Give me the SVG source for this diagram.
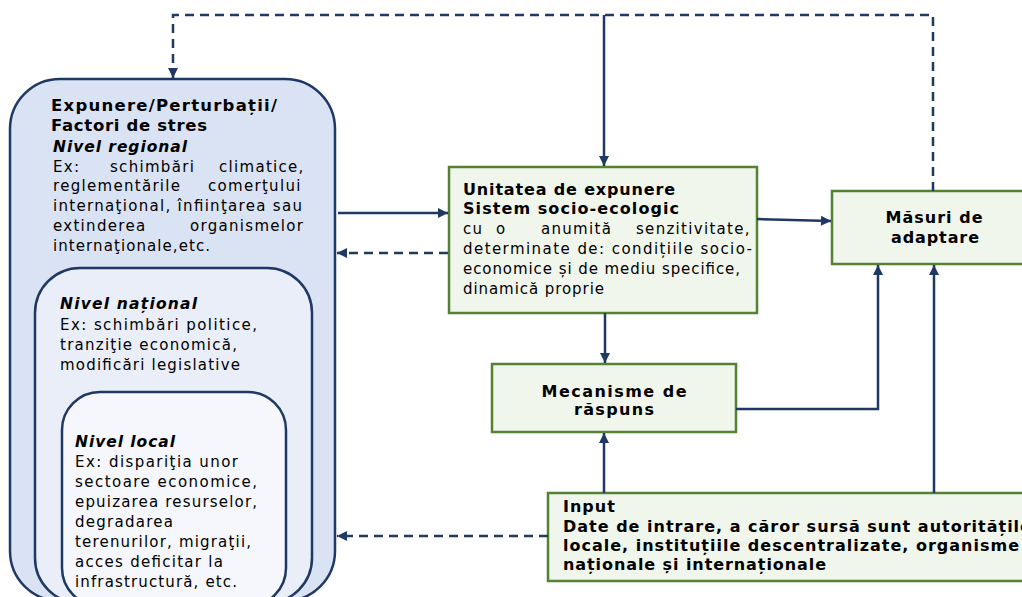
<svg xmlns="http://www.w3.org/2000/svg" width="1022" height="597" viewBox="0 0 1022 597">
  <style>
    .t { font-family: "DejaVu Sans", Verdana, sans-serif; fill: #000; }
    .b { font-size: 15px; }
    .j { font-size: 15px; letter-spacing: 1.3px; }
    .h { font-size: 16px; font-weight: bold; }
    .ttl { font-size: 16.5px; font-weight: bold; }
    .bi { font-size: 15.5px; font-weight: bold; font-style: italic; }
    .lvl { stroke: #1f3864; stroke-width: 2.5; }
    .box { fill: #f1f6ec; stroke: #548235; stroke-width: 2.5; }
    .c { fill: none; stroke: #1f3864; stroke-width: 2.5; }
    .d { stroke-dasharray: 9 6; }
  </style>
  <defs>
    <marker id="ah" viewBox="0 0 10 10" refX="10" refY="5" markerWidth="4.4" markerHeight="4" orient="auto" markerUnits="strokeWidth">
      <path d="M0,0 L10,5 L0,10 z" fill="#1f3864"/>
    </marker>
  </defs>

  <rect width="1022" height="597" fill="#ffffff"/>

  <!-- stress factors: regional / national / local levels -->
  <g id="factori">
    <rect class="lvl" x="10" y="79" width="325" height="522" rx="50" fill="#dae3f3"/>
    <text class="t ttl" x="51" y="111" textLength="226" lengthAdjust="spacing">Expunere/Perturbații/</text>
    <text class="t ttl" x="51" y="131" textLength="156" lengthAdjust="spacing">Factori de stres</text>
    <text class="t bi" x="53" y="152" textLength="134" lengthAdjust="spacing">Nivel regional</text>
    <!-- justified paragraph: words placed individually -->
    <text class="t j" y="172"><tspan x="53">Ex:</tspan> <tspan x="110">schimbări</tspan> <tspan x="219">climatice,</tspan></text>
    <text class="t j" y="191"><tspan x="53">reglementările</tspan> <tspan x="208">comerţului</tspan></text>
    <text class="t b" x="53" y="211" textLength="249" lengthAdjust="spacing">internaţional, înfiinţarea sau</text>
    <text class="t j" y="231"><tspan x="53">extinderea</tspan> <tspan x="190">organismelor</tspan></text>
    <text class="t b" x="53" y="251" textLength="157" lengthAdjust="spacing">internaţionale,etc.</text>
  </g>
  <g id="nivel-national">
    <rect class="lvl" x="35" y="268" width="277" height="335" rx="45" fill="#e9eef8"/>
    <text class="t bi" x="60" y="309" textLength="137" lengthAdjust="spacing">Nivel național</text>
    <text class="t b" x="60" y="330" textLength="197" lengthAdjust="spacing">Ex: schimbări politice,</text>
    <text class="t b" x="60" y="350" textLength="177" lengthAdjust="spacing">tranziţie economică,</text>
    <text class="t b" x="60" y="370" textLength="180" lengthAdjust="spacing">modificări legislative</text>
  </g>
  <g id="nivel-local">
    <rect class="lvl" x="62" y="392" width="224" height="214" rx="38" fill="#f5f7fc"/>
    <text class="t bi" x="75" y="447" textLength="100" lengthAdjust="spacing">Nivel local</text>
    <text class="t b" x="75" y="467" textLength="163" lengthAdjust="spacing">Ex: dispariţia unor</text>
    <text class="t b" x="75" y="487" textLength="182" lengthAdjust="spacing">sectoare economice,</text>
    <text class="t b" x="75" y="507" textLength="182" lengthAdjust="spacing">epuizarea resurselor,</text>
    <text class="t b" x="75" y="527" textLength="98" lengthAdjust="spacing">degradarea</text>
    <text class="t b" x="75" y="547" textLength="176" lengthAdjust="spacing">terenurilor, migraţii,</text>
    <text class="t b" x="75" y="567" textLength="148" lengthAdjust="spacing">acces deficitar la</text>
    <text class="t b" x="75" y="587" textLength="162" lengthAdjust="spacing">infrastructură, etc.</text>
  </g>

  <!-- exposure unit -->
  <g id="unitatea">
    <rect class="box" x="449" y="167" width="308" height="146"/>
    <text class="t h" x="463" y="195" textLength="212" lengthAdjust="spacing">Unitatea de expunere</text>
    <text class="t h" x="463" y="214" textLength="216" lengthAdjust="spacing">Sistem socio-ecologic</text>
    <text class="t j" y="234"><tspan x="463">cu</tspan> <tspan x="496">o</tspan> <tspan x="541">anumită</tspan> <tspan x="636">senzitivitate,</tspan></text>
    <text class="t b" x="463" y="254" textLength="289" lengthAdjust="spacing">determinate de: condițiile socio-</text>
    <text class="t b" x="463" y="274" textLength="277" lengthAdjust="spacing">economice și de mediu specifice,</text>
    <text class="t b" x="463" y="294" textLength="141" lengthAdjust="spacing">dinamică proprie</text>
  </g>

  <g id="mecanisme">
    <rect class="box" x="492" y="364" width="244" height="68"/>
    <text class="t h" x="614" y="397" text-anchor="middle" textLength="145" lengthAdjust="spacing">Mecanisme de</text>
    <text class="t h" x="614" y="415" text-anchor="middle" textLength="80" lengthAdjust="spacing">răspuns</text>
  </g>

  <g id="masuri">
    <rect class="box" x="832" y="191" width="204" height="73"/>
    <text class="t h" x="934" y="223" text-anchor="middle" textLength="97" lengthAdjust="spacing">Măsuri de</text>
    <text class="t h" x="935" y="243" text-anchor="middle" textLength="88" lengthAdjust="spacing">adaptare</text>
  </g>

  <g id="input">
    <rect class="box" x="548" y="493" width="500" height="88"/>
    <text class="t h" x="563" y="512" letter-spacing="1">Input</text>
    <text class="t h" x="563" y="532" letter-spacing="1">Date de intrare, a căror sursă sunt autoritățile</text>
    <text class="t h" x="563" y="551" letter-spacing="1">locale,  instituțiile descentralizate, organisme</text>
    <text class="t h" x="563" y="570" textLength="263" lengthAdjust="spacing">naționale și internaționale</text>
  </g>

  <g id="connectors">
    <!-- feedback loop over the top -->
    <path class="c d" d="M933,191 V15 H173 V78" marker-end="url(#ah)"/>
    <path class="c" d="M604,15 V166" marker-end="url(#ah)"/>
    <!-- factors <-> exposure unit -->
    <path class="c" d="M338,213 H448" marker-end="url(#ah)"/>
    <path class="c d" d="M448,253 H337" marker-end="url(#ah)"/>
    <!-- exposure unit -> adaptation / response -->
    <path class="c" d="M757,219 L831,221" marker-end="url(#ah)"/>
    <path class="c" d="M605,313 V363" marker-end="url(#ah)"/>
    <!-- response -> adaptation -->
    <path class="c" d="M736,409 H878 V265" marker-end="url(#ah)"/>
    <!-- input -->
    <path class="c" d="M604,493 V433" marker-end="url(#ah)"/>
    <path class="c" d="M934,493 V265" marker-end="url(#ah)"/>
    <path class="c d" d="M548,536 H337" marker-end="url(#ah)"/>
  </g>
</svg>
